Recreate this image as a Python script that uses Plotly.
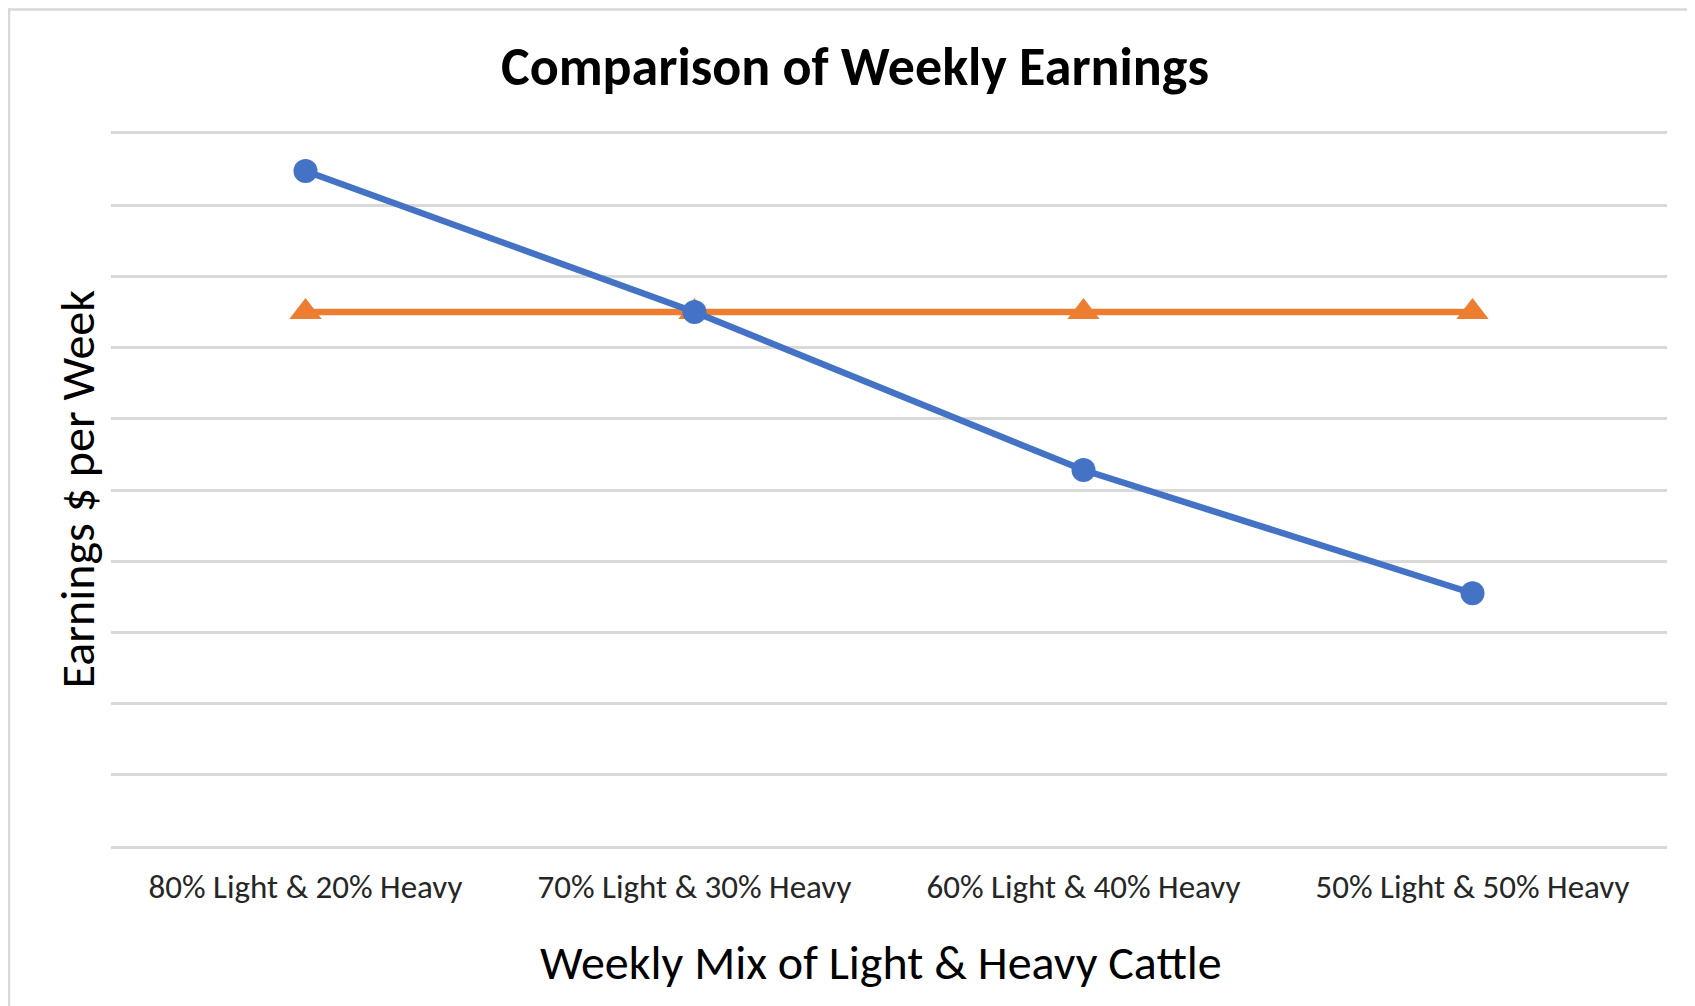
import plotly.graph_objects as go

categories = ["80% Light & 20% Heavy", "70% Light & 30% Heavy",
              "60% Light & 40% Heavy", "50% Light & 50% Heavy"]
series_a = [9.48, 7.5, 5.28, 3.55]
series_b = [7.5, 7.5, 7.5, 7.5]
title_text = "Comparison of Weekly Earnings"
x_title = "Weekly Mix of Light & Heavy Cattle"
y_title = "Earnings $ per Week"

FONT = "Carlito, Lato, sans-serif"
BLUE = "#4472C4"
ORANGE = "#ED7D31"
GRID = "#d9d9d9"

xs = list(range(len(categories)))

# page body has an 8px margin, so the figure is sized / positioned to compensate
W, H = 1687, 998
L, R, T, B = 103, 28, 125.5, 160.3
pw, ph = W - L - R, H - T - B


def px_x(p):
    return (p - L) / pw


def px_y(p):
    return (H - B - p) / ph


fig = go.Figure()
fig.add_trace(go.Scatter(x=xs, y=series_b, mode="lines+markers",
                         line=dict(color=ORANGE, width=6.5),
                         marker=dict(symbol="triangle-up", size=28, color=ORANGE),
                         showlegend=False))
fig.add_trace(go.Scatter(x=xs, y=series_a, mode="lines+markers",
                         line=dict(color=BLUE, width=6.5),
                         marker=dict(symbol="circle", size=24, color=BLUE),
                         showlegend=False))

fig.update_layout(
    width=W, height=H,
    margin=dict(l=L, r=R, t=T, b=B),
    paper_bgcolor="white", plot_bgcolor="white",
    font=dict(family=FONT, color="black"),
    title=dict(text="<b>" + title_text + "</b>", x=px_x(847), xref="paper",
               xanchor="center", y=1 - 58 / H, yanchor="middle",
               font=dict(size=54, family=FONT, color="black")),
    xaxis=dict(range=[-0.5, 3.5], tickmode="array", tickvals=xs, ticktext=categories,
               showgrid=False, zeroline=False, showline=True, linecolor=GRID, linewidth=2.5,
               mirror=True, ticks="", ticklabelstandoff=10, automargin=False,
               tickfont=dict(size=33, family=FONT, color="#262626")),
    yaxis=dict(range=[0, 10], dtick=1, showgrid=True, gridcolor=GRID, gridwidth=2.5,
               zeroline=False, showticklabels=False, ticks="", automargin=False),
    annotations=[
        dict(text=x_title, xref="paper", yref="paper", x=px_x(873), y=px_y(954),
             xanchor="center", yanchor="middle", showarrow=False,
             font=dict(size=48, family=FONT, color="black")),
        dict(text=y_title, xref="paper", yref="paper", x=px_x(69), y=px_y(481),
             xanchor="center", yanchor="middle", showarrow=False, textangle=-90,
             font=dict(size=48, family=FONT, color="black")),
    ],
    shapes=[
        dict(type="line", xref="paper", yref="paper",
             x0=px_x(0), x1=px_x(W + 20), y0=px_y(1), y1=px_y(1),
             line=dict(color=GRID, width=2.5)),
        dict(type="line", xref="paper", yref="paper",
             x0=px_x(1), x1=px_x(1), y0=px_y(0), y1=px_y(H + 20),
             line=dict(color=GRID, width=2.5)),
    ],
)

fig.write_html("out.html")
